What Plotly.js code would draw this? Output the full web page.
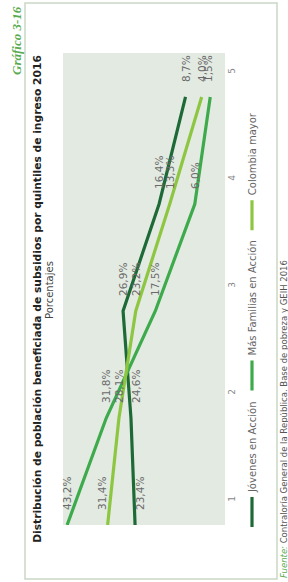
<!DOCTYPE html>
<html><head><meta charset="utf-8">
<script src="https://cdn.plot.ly/plotly-3.0.1.min.js"></script>
<style>
html,body{margin:0;padding:0;overflow:hidden;background:#fff;width:288px;height:582px;}
#wrap{position:absolute;left:0;top:0;width:582px;height:288px;transform-origin:0 0;transform:translateY(582px) rotate(-90deg);}
</style></head><body>
<div id="wrap"><div id="chart" style="width:582px;height:288px"></div></div>
<script>
const quintiles = [1, 2, 3, 4, 5];
const tickLabels = ['1', '2', '3', '4', '5'];
const seriesNames = ['Jóvenes en Acción', 'Más Familias en Acción', 'Colombia mayor'];
const jovenes = [23.4, 24.6, 26.9, 16.4, 8.7];
const masFamilias = [43.2, 31.8, 17.5, 6.0, 1.5];
const colombiaMayor = [31.4, 28.1, 23.2, 13.3, 4.0];
const titleText = 'Distribución de población beneficiada de subsidios por quintiles de ingreso 2016';
const subtitleText = 'Porcentajes';
const chartNumber = 'Gráfico 3-16';
const sourceLabel = 'Fuente:';
const sourceText = 'Contraloría General de la República. Base de pobreza y GEIH 2016';

const seriesValues = [jovenes, masFamilias, colombiaMayor];
const colors = ['#1d6a37', '#3dab4b', '#8dc641'];
const FONT = 'DejaVu Sans, Verdana, sans-serif';
// small label nudges (px) to avoid overlaps, keyed by "series-point"
const labelNudge = {'0-0': -5, '0-1': -5, '2-0': 6, '1-4': 2};

const traces = seriesValues.map((vals, i) => ({
  type: 'scatter', mode: 'lines', x: quintiles, y: vals, name: seriesNames[i],
  line: {color: colors[i], width: 3.2}, hoverinfo: 'skip'
}));

const fmt = v => v.toFixed(1).replace('.', ',') + '%';
const annotations = [];
seriesValues.forEach((vals, i) => {
  vals.forEach((v, j) => {
    annotations.push({x: quintiles[j], y: v, xref: 'x', yref: 'y', text: fmt(v), showarrow: false,
      xanchor: 'left', yanchor: 'middle', xshift: 13, yshift: labelNudge[i + '-' + j] || 0,
      font: {family: FONT, size: 10.5, color: '#6a6a6a'}});
  });
});
annotations.push({xref: 'paper', yref: 'paper', x: (292 - 57) / 472, y: (225 - 49) / 162, text: subtitleText,
  showarrow: false, xanchor: 'center', yanchor: 'middle', font: {family: FONT, size: 10, color: '#444'}});
annotations.push({xref: 'paper', yref: 'paper', x: (578 - 57) / 472, y: (225 - 16) / 162, text: '<b><i>' + chartNumber + '</i></b>',
  showarrow: false, xanchor: 'right', yanchor: 'middle', font: {family: 'Liberation Serif, serif', size: 13, color: '#5aab50'}});
annotations.push({xref: 'paper', yref: 'paper', x: (2 - 57) / 472, y: (225 - 284) / 162,
  text: '<i><span style="color:#5aab50">' + sourceLabel + '</span></i> ' + sourceText,
  showarrow: false, xanchor: 'left', yanchor: 'middle', font: {family: FONT, size: 8.5, color: '#555'}});

const layout = {
  width: 582, height: 288,
  margin: {l: 57, r: 53, t: 63, b: 63},
  paper_bgcolor: '#ffffff', plot_bgcolor: '#e3eae2',
  title: {text: '<b>' + titleText + '</b>', font: {family: FONT, size: 10.7, color: '#222'},
    xref: 'container', x: 283 / 582, xanchor: 'center', yref: 'container', y: 1 - 37 / 288, yanchor: 'middle'},
  xaxis: {range: [1, 5.411], tickvals: quintiles, ticktext: tickLabels, ticks: '', showgrid: false, zeroline: false,
    showline: false, ticklabelshift: 26, ticklabelstandoff: 0, tickfont: {family: FONT, size: 9, color: '#888'}},
  yaxis: {range: [-2.8, 44.4], showticklabels: false, showgrid: false, zeroline: false, ticks: ''},
  showlegend: true,
  legend: {orientation: 'h', x: -0.015, xanchor: 'left', y: (225 - 252) / 162, yanchor: 'middle',
    font: {family: FONT, size: 10, color: '#666'}, bgcolor: 'rgba(0,0,0,0)'},
  shapes: [{type: 'rect', xref: 'paper', yref: 'paper', x0: (3 - 57) / 472, x1: (579 - 57) / 472,
    y0: (225 - 277) / 162, y1: (225 - 25) / 162, line: {color: '#c9d8c5', width: 1.5}, fillcolor: 'rgba(0,0,0,0)', layer: 'below'}],
  annotations: annotations
};
Plotly.newPlot('chart', traces, layout, {displayModeBar: false, staticPlot: true});
</script></body></html>
